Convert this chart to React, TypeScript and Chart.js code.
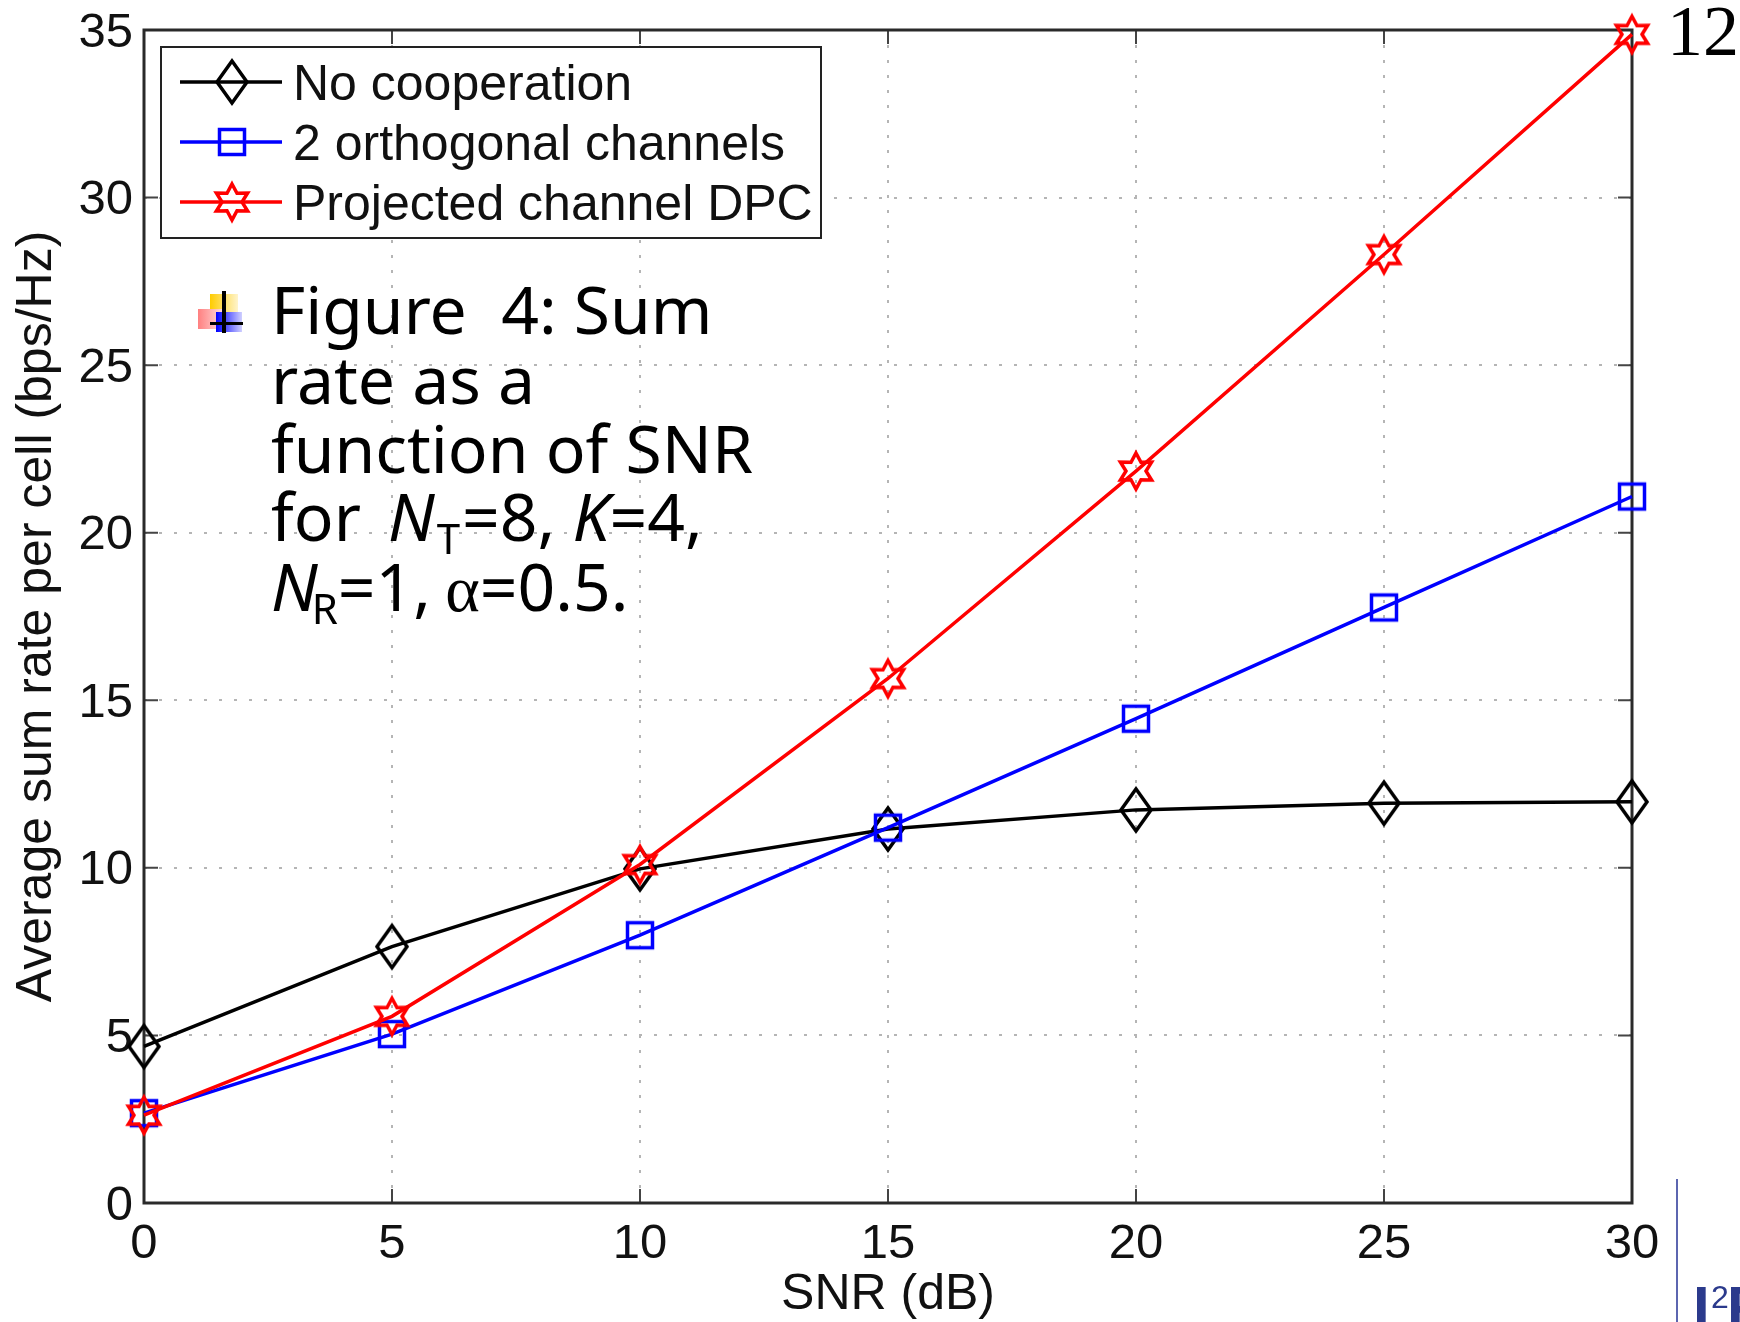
import React, { useEffect, useRef } from "react";
import { Chart, registerables } from "chart.js";

Chart.register(...registerables);

const snrDb = [0, 5, 10, 15, 20, 25, 30];
const noCooperation = [4.67, 7.65, 9.97, 11.16, 11.73, 11.93, 11.97];
const orthogonal = [2.68, 5.04, 7.99, 11.2, 14.45, 17.77, 21.08];
const projectedDpc = [2.62, 5.57, 10.1, 15.65, 21.84, 28.3, 34.87];
const seriesNames = ["No cooperation", "2 orthogonal channels", "Projected channel DPC"];
const xAxisTitle = "SNR (dB)";
const yAxisTitle = "Average sum rate per cell (bps/Hz)";
const pageNumber = "12";

const SANS = '"Liberation Sans", Arial, sans-serif';
const NOTE = '"Noto Sans", sans-serif';

function markerCanvas(w: number, h: number, draw: (c: CanvasRenderingContext2D) => void) {
  const cv = document.createElement("canvas");
  cv.width = w;
  cv.height = h;
  const c = cv.getContext("2d")!;
  c.translate(w / 2, h / 2);
  draw(c);
  return cv;
}
function diamond(color: string) {
  return markerCanvas(38, 50, (c) => {
    c.strokeStyle = color;
    c.lineWidth = 3.5;
    c.lineJoin = "miter";
    c.beginPath();
    c.moveTo(0, -21);
    c.lineTo(15, 0);
    c.lineTo(0, 21);
    c.lineTo(-15, 0);
    c.closePath();
    c.stroke();
  });
}
function square(color: string) {
  return markerCanvas(34, 34, (c) => {
    c.strokeStyle = color;
    c.lineWidth = 3.5;
    c.strokeRect(-12.5, -12.5, 25, 25);
  });
}
function hexagram(color: string) {
  return markerCanvas(42, 46, (c) => {
    c.strokeStyle = color;
    c.lineWidth = 3.5;
    c.lineJoin = "miter";
    c.beginPath();
    const R = 18;
    const r = 10;
    for (let i = 0; i < 12; i++) {
      const a = -Math.PI / 2 + (i * Math.PI) / 6;
      const d = i % 2 === 0 ? R : r;
      const x = d * Math.cos(a);
      const y = d * Math.sin(a);
      if (i === 0) c.moveTo(x, y);
      else c.lineTo(x, y);
    }
    c.closePath();
    c.stroke();
  });
}

function text(
  c: CanvasRenderingContext2D,
  s: string,
  x: number,
  y: number,
  font: string,
  color = "#000"
) {
  c.font = font;
  c.fillStyle = color;
  c.textAlign = "left";
  c.textBaseline = "alphabetic";
  c.fillText(s, x, y);
  return c.measureText(s).width;
}

const framePlugin = {
  id: "frame",
  beforeDraw(chart: any) {
    // nudge the y tick labels down so their digits centre on the tick marks
    for (const item of chart.scales.y.getLabelItems()) {
      if (!item.nudged) {
        item.options.translation[1] += 3;
        item.nudged = true;
      }
    }
  },
  beforeDatasetsDraw(chart: any) {
    const c = chart.ctx as CanvasRenderingContext2D;
    const { left, right, top, bottom } = chart.chartArea;
    c.save();
    c.strokeStyle = "#444";
    c.lineWidth = 2;
    const tick = 14;
    for (const t of chart.scales.x.ticks) {
      const x = chart.scales.x.getPixelForValue(t.value);
      c.beginPath();
      c.moveTo(x, bottom);
      c.lineTo(x, bottom - tick);
      c.moveTo(x, top);
      c.lineTo(x, top + tick);
      c.stroke();
    }
    for (const t of chart.scales.y.ticks) {
      const y = chart.scales.y.getPixelForValue(t.value);
      c.beginPath();
      c.moveTo(left, y);
      c.lineTo(left + tick, y);
      c.moveTo(right, y);
      c.lineTo(right - tick, y);
      c.stroke();
    }
    c.lineWidth = 3;
    c.strokeStyle = "#2a2a2a";
    c.strokeRect(left, top, right - left, bottom - top);
    c.restore();
  },
};

const overlayPlugin = {
  id: "overlay",
  afterDatasetsDraw(chart: any) {
    const c = chart.ctx as CanvasRenderingContext2D;
    c.save();
    // legend
    c.fillStyle = "#fff";
    c.fillRect(161, 47, 660, 191);
    c.strokeStyle = "#222";
    c.lineWidth = 2;
    c.strokeRect(161, 47, 660, 191);
    const rows = [82, 142, 202];
    chart.data.datasets.forEach((ds: any, i: number) => {
      const y = rows[i];
      c.strokeStyle = ds.borderColor;
      c.lineWidth = 3.5;
      c.beginPath();
      c.moveTo(180, y);
      c.lineTo(282, y);
      c.stroke();
      const m = ds.pointStyle as HTMLCanvasElement;
      c.drawImage(m, 232 - m.width / 2, y - m.height / 2);
      text(c, ds.label, 293, y + 18, `50px ${SANS}`, "#111");
    });
    // annotation
    const f = `66px ${NOTE}`;
    const sub = `42px ${NOTE}`;
    const x0 = 271;
    text(c, "Figure  4: Sum", x0, 334, f);
    text(c, "rate as a", x0, 404, f);
    text(c, "function of SNR", x0, 473, f);
    let x = x0;
    x += text(c, "for ", x, 541, f);
    x += text(c, "N", x + 10, 541, `italic ${f}`) + 10;
    x += text(c, "T", x + 2, 554, sub) + 4;
    x += text(c, "=8, ", x, 541, f);
    x += text(c, "K", x, 541, `italic ${f}`);
    text(c, "=4,", x, 541, f);
    x = x0;
    x += text(c, "N", x, 611, `italic ${f}`);
    x += text(c, "R", x - 6, 624, sub) - 6;
    x += text(c, "=1, ", x, 611, f);
    x += text(c, "α", x - 3, 611, `66px "Liberation Serif", serif`) - 3;
    text(c, "=0.5.", x, 611, f);
    // bullet
    const grad = (x0: number, x1: number, a: string, b: string) => {
      const g = c.createLinearGradient(x0, 0, x1, 0);
      g.addColorStop(0, a);
      g.addColorStop(1, b);
      return g;
    };
    c.fillStyle = grad(210, 238, "#ffcc00", "#fff4cc");
    c.fillRect(210, 294, 28, 20);
    c.fillStyle = grad(198, 222, "#ff8080", "#ffd8d8");
    c.fillRect(198, 309, 24, 20);
    c.fillStyle = grad(216, 242, "#0000ff", "#d0d0ff");
    c.fillRect(216, 312, 26, 20);
    c.fillStyle = "#000";
    c.fillRect(222, 291, 4, 42);
    c.fillRect(210, 322, 33, 3);
    // page furniture
    text(c, pageNumber, 1667, 55, `72px "Liberation Serif", serif`);
    c.fillStyle = "#5c66b0";
    c.fillRect(1676, 1179, 2, 143);
    const navy = "#2b3a8c";
    text(c, "I", 1693, 1328, `bold 60px ${SANS}`, navy);
    text(c, "2", 1711, 1308, `32px ${SANS}`, navy);
    text(c, "R", 1727, 1328, `bold 60px ${SANS}`, navy);
    c.restore();
  },
};

export default function App() {
  const ref = useRef<HTMLCanvasElement>(null);
  useEffect(() => {
    document.body.style.margin = "0";
    const series = [noCooperation, orthogonal, projectedDpc];
    const colors = ["#000000", "#0000ff", "#ff0000"];
    const styles = [diamond("#000000"), square("#0000ff"), hexagram("#ff0000")];
    const chart = new Chart(ref.current!, {
      type: "line",
      data: {
        datasets: series.map((vals, i) => ({
          label: seriesNames[i],
          data: vals.map((y, j) => ({ x: snrDb[j], y })),
          borderColor: colors[i],
          backgroundColor: colors[i],
          borderWidth: 3.5,
          pointStyle: styles[i] as any,
          tension: 0,
          clip: false as any,
          order: 3 - i,
        })),
      },
      options: {
        responsive: false,
        animation: false,
        layout: { autoPadding: false, padding: { left: 0, top: 30, right: 108, bottom: 0 } },
        plugins: { legend: { display: false }, tooltip: { enabled: false }, title: { display: false } },
        scales: {
          x: {
            type: "linear",
            min: 0,
            max: 30,
            afterFit: (s: any) => {
              s.height = 119;
              s.paddingLeft = 0;
              s.paddingRight = 0;
            },
            ticks: {
              stepSize: 5,
              color: "#111",
              padding: 12,
              font: { family: SANS, size: 49 },
              maxRotation: 0,
            },
            grid: { color: "#b5b5b5", lineWidth: 2, drawTicks: false },
            border: { display: false, dash: [3, 12] },
            title: {
              display: true,
              text: xAxisTitle,
              color: "#111",
              font: { family: SANS, size: 50, lineHeight: 1 },
              padding: { top: 0, bottom: 2 },
            },
          },
          y: {
            min: 0,
            max: 35,
            afterFit: (s: any) => {
              s.width = 144;
              s.paddingTop = 0;
              s.paddingBottom = 0;
            },
            ticks: {
              stepSize: 5,
              color: "#111",
              padding: 11,
              font: { family: SANS, size: 49 },
            },
            grid: { color: "#b5b5b5", lineWidth: 2, drawTicks: false },
            border: { display: false, dash: [3, 12] },
            title: {
              display: true,
              text: yAxisTitle,
              color: "#111",
              font: { family: SANS, size: 50, lineHeight: 1 },
              padding: { top: 12, bottom: 0 },
            },
          },
        },
      } as any,
      plugins: [framePlugin, overlayPlugin],
    });
    return () => chart.destroy();
  }, []);
  return (
    <div style={{ position: "absolute", left: 0, top: 0, width: 1740, height: 1322 }}>
      <canvas ref={ref} width={1740} height={1322} style={{ display: "block" }} />
    </div>
  );
}
